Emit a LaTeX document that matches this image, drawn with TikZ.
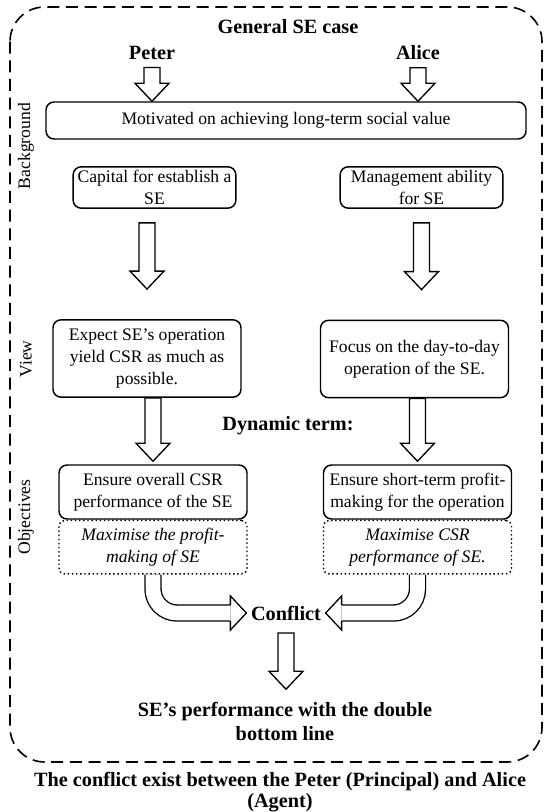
\documentclass[tikz,border=0pt]{standalone}
\usepackage{fontspec}
\setmainfont{Liberation Serif}
\usetikzlibrary{calc, positioning}

% hollow block arrow pointing down, from #1 to #2 (gaps #3, #4)
\newcommand{\downblock}[4]{%
  \draw[blockarr] ($(#1)+(-8,#3)$) -- ($(#2)+(-8,-18-#4)$) -- ($(#2)+(-17,-18-#4)$)
    -- ($(#2)+(0,-#4)$) -- ($(#2)+(17,-18-#4)$) -- ($(#2)+(8,-18-#4)$)
    -- ($(#1)+(8,#3)$) -- cycle;}
% open heads for the bent arrows
\newcommand{\headright}[1]{%
  \draw[blockarr, fill=none] ($(#1)+(-16,-8)$) -- ($(#1)+(-16,-17)$) -- (#1)
    -- ($(#1)+(-16,17)$) -- ($(#1)+(-16,8)$);}
\newcommand{\headleft}[1]{%
  \draw[blockarr, fill=none] ($(#1)+(16,-8)$) -- ($(#1)+(16,-17)$) -- (#1)
    -- ($(#1)+(16,17)$) -- ($(#1)+(16,8)$);}

\begin{document}
\begin{tikzpicture}[x=0.75pt, y=-0.75pt,
    box/.style={rectangle, rounded corners=6pt, draw, line width=1.1pt, align=center, inner sep=2pt, font=\fontsize{13.2}{16.5}\selectfont},
    dotbox/.style={box, dotted, rounded corners=4pt, font=\fontsize{13.2}{16.5}\selectfont\itshape},
    bigtxt/.style={align=center, font=\fontsize{15.2}{18.5}\selectfont\bfseries},
    side/.style={rotate=90, font=\fontsize{13.2}{16}\selectfont},
    frame/.style={draw, dash pattern=on 9pt off 5pt, line width=1.2pt, rounded corners=26pt},
    blockarr/.style={draw, line width=1pt, fill=white},
    bentarr/.style={line width=1pt, double distance=11pt, rounded corners=18pt}]

\useasboundingbox (0,0) rectangle (550,812);

% Frame
\draw[frame] (10,7) rectangle (542,762);

% Actors
\node[bigtxt] (title) at (288,27) {General SE case};
\node[bigtxt] (peter) at (152,53) {Peter};
\node[bigtxt] (alice) at (418,53) {Alice};

% Background
\node[box, minimum width=360pt, minimum height=27.75pt] (motiv) at (286,120.5) {Motivated on achieving long-term social value};
\node[box, minimum width=122pt, minimum height=31pt] (cap) at (154.5,187.5) {Capital for establish a\\SE};
\node[box, minimum width=122pt, minimum height=31pt] (mgmt) at (421.5,187.5) {Management ability\\for SE};

% View
\node[box, minimum width=141pt, minimum height=58pt] (lview) at (147,358.5) {Expect SE’s operation\\yield CSR as much as\\possible.};
\node[box, minimum width=141pt, minimum height=58pt] (rview) at (414.5,359) {Focus on the day-to-day\\operation of the SE.};

% Objectives
\node[bigtxt] (dyn) at (288,426) {Dynamic term:};
\node[box, minimum width=141pt, minimum height=40.5pt] (lobj) at (153,492) {Ensure overall CSR\\performance of the SE};
\node[box, minimum width=141pt, minimum height=40.5pt] (robj) at (417.5,492) {Ensure short-term profit-\\making for the operation};
\node[dotbox, below=0pt of lobj, minimum width=141pt, minimum height=40pt] (lmax) {Maximise the profit-\\making of SE};
\node[dotbox, below=0pt of robj, minimum width=141pt, minimum height=40pt] (rmax) {Maximise CSR\\performance of SE.};

% Outcome
\node[bigtxt] (conf) at (286,613) {Conflict};
\node[bigtxt] (perf) at (285,721.5) {SE’s performance with the double\\bottom line};
\node[bigtxt, font=\fontsize{15.2}{16}\selectfont\bfseries] (caption) at (280,792) {The conflict exist between the Peter (Principal) and Alice\\(Agent)};

% Side labels
\node[side] (bglab) at (26,146) {Background};
\node[side] (vwlab) at (26,359) {View};
\node[side] (oblab) at (26,517) {Objectives};

% Arrows
\downblock{peter.south}{peter.south |- motiv.north}{3}{0}
\downblock{alice.south}{alice.south |- motiv.north}{3}{0}
\downblock{lview.north |- cap.south}{lview.north}{14}{30}
\downblock{mgmt.south}{mgmt.south |- rview.north}{14}{30}
\downblock{lobj.north |- lview.south}{lobj.north}{0}{3}
\downblock{robj.north |- rview.south}{robj.north}{0}{3}
\downblock{conf.south}{conf.south |- perf.north}{8}{8}

\coordinate (lend) at ($(conf.west)+(-16,0)$);
\coordinate (rend) at ($(conf.east)+(16,0)$);
\draw[bentarr] (lmax.south) |- (lend);
\draw[bentarr] (rmax.south) |- (rend);
\headright{conf.west}
\headleft{conf.east}

\end{tikzpicture}
\end{document}
